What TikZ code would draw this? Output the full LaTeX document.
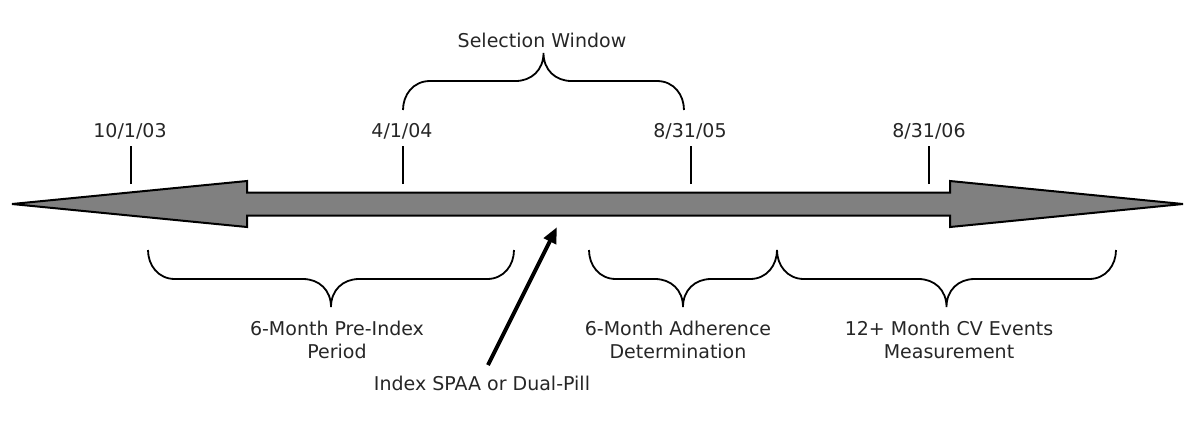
\documentclass[tikz,border=0pt]{standalone}
\usepackage{fontspec}
\setmainfont{DejaVu Sans}
\usepackage{tikz}
\usetikzlibrary{arrows.meta}

\begin{document}
\begin{tikzpicture}[x=0.5pt,y=-0.5pt]
  \tikzset{TextStyle/.style = {
    text          = black!85,
    font          = \fontsize{9.5pt}{11.5pt}\selectfont,
    align         = center,
    inner sep     = 0pt
    }
  }
  \tikzset{TickStyle/.style = {
    draw          = black,
    line width    = 0.8pt
    }
  }
  \tikzset{BraceStyle/.style = {
    draw          = black,
    line width    = 0.9pt
    }
  }
  \tikzset{TimeLineStyle/.style = {
    draw          = black,
    fill          = black!50,
    line width    = 1pt,
    line join     = miter
    }
  }
  \tikzset{IndexArrowStyle/.style = {
    draw          = black,
    line width    = 2pt,
    -{Triangle[length=8pt,width=6.5pt]}
    }
  }
  \tikzset{pics/TimeBrace/.style 2 args = {code = {
    \draw[BraceStyle] (0,0) .. controls (0,{15*(#2)}) and (10,{29*(#2)}) .. (27,{29*(#2)})
      -- ({#1/2-28},{29*(#2)}) .. controls ({#1/2-12},{29*(#2)}) and ({#1/2},{40*(#2)}) .. ({#1/2},{57*(#2)})
      .. controls ({#1/2},{40*(#2)}) and ({#1/2+12},{29*(#2)}) .. ({#1/2+28},{29*(#2)})
      -- ({#1-27},{29*(#2)}) .. controls ({#1-10},{29*(#2)}) and (#1,{15*(#2)}) .. (#1,0);
    }}
  }

  \useasboundingbox (0,0) rectangle (1200,420);

  % time line
  \draw[TimeLineStyle] (12,204) -- (247,181) -- (247,192.5) -- (950,192.5) -- (950,181)
    -- (1183,204) -- (950,227) -- (950,215.5) -- (247,215.5) -- (247,227) -- cycle;

  % dates
  \node[TextStyle](D1) at (130,131) {10/1/03};
  \node[TextStyle](D2) at (402,131) {4/1/04};
  \node[TextStyle](D3) at (690,131) {8/31/05};
  \node[TextStyle](D4) at (929,131) {8/31/06};
  \coordinate (T1) at (131,184);
  \coordinate (T2) at (403,184);
  \coordinate (T3) at (691,184);
  \coordinate (T4) at (929,184);
  \draw[TickStyle] (T1) -- ++(0,-38);
  \draw[TickStyle] (T2) -- ++(0,-38);
  \draw[TickStyle] (T3) -- ++(0,-38);
  \draw[TickStyle] (T4) -- ++(0,-38);

  % braces
  \pic at (403,110) {TimeBrace={281}{-1}};
  \pic at (148,250) {TimeBrace={366}{1}};
  \pic at (589,250) {TimeBrace={188}{1}};
  \pic at (777,250) {TimeBrace={339}{1}};

  % labels
  \node[TextStyle](Sel) at (542,40) {Selection Window};
  \node[TextStyle](Pre) at (337,340) {6-Month Pre-Index\\Period};
  \node[TextStyle](Adh) at (678,340) {6-Month Adherence\\Determination};
  \node[TextStyle](CV) at (949,340) {12+ Month CV Events\\Measurement};
  \node[TextStyle](Idx) at (482,383) {Index SPAA or Dual-Pill};

  % index event
  \coordinate (IdxTail) at (488,365);
  \coordinate (IdxHead) at (557,227);
  \draw[IndexArrowStyle] (IdxTail) -- (IdxHead);

\end{tikzpicture}
\end{document}
